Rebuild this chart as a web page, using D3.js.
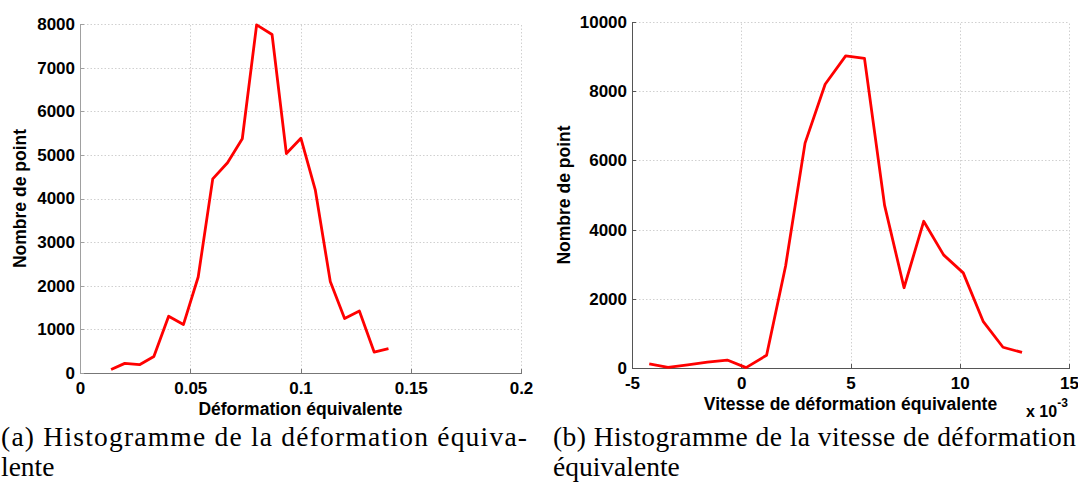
<!DOCTYPE html>
<html>
<head>
<meta charset="utf-8">
<script src="https://cdn.jsdelivr.net/npm/d3@7/dist/d3.min.js"></script>
<style>
  html, body { margin: 0; padding: 0; background: #fff; }
  svg { display: block; }
  .tick text { font-family: "Liberation Sans", Arial, sans-serif; font-weight: bold; font-size: 17px; fill: #000; }
  .lbl { font-family: "Liberation Sans", Arial, sans-serif; font-weight: bold; font-size: 17.5px; fill: #000; }
  .cap { font-family: "Liberation Serif", "Times New Roman", serif; font-size: 27.5px; fill: #000; }
</style>
</head>
<body>
<svg id="chart" width="1078" height="482"></svg>
<script>
// ---- Data: (a) Déformation équivalente ----
const defX = [0.0141, 0.0203, 0.0270, 0.0335, 0.0402, 0.0469, 0.0536, 0.0602, 0.0669, 0.0736,
              0.0801, 0.0871, 0.0936, 0.1002, 0.1067, 0.1135, 0.1200, 0.1267, 0.1334, 0.1399];
const defY = [80, 220, 190, 380, 1300, 1110, 2200, 4450, 4820, 5370,
              7980, 7760, 5030, 5380, 4200, 2100, 1250, 1420, 480, 560];
const defXTicks = [0, 0.05, 0.1, 0.15, 0.2];
const defXTickLabels = ["0", "0.05", "0.1", "0.15", "0.2"];
const defYTicks = [0, 1000, 2000, 3000, 4000, 5000, 6000, 7000, 8000];

// ---- Data: (b) Vitesse de déformation équivalente (x 10^-3) ----
const vitX = [-4.21, -3.35, -2.45, -1.55, -0.64, 0.22, 1.16, 2.03, 2.92, 3.84,
              4.78, 5.64, 6.56, 7.45, 8.35, 9.26, 10.16, 11.07, 11.98, 12.85];
const vitY = [120, 20, 90, 170, 230, 10, 370, 2950, 6500, 8200,
              9020, 8950, 4700, 2320, 4240, 3270, 2750, 1350, 600, 450];
const vitXTicks = [-5, 0, 5, 10, 15];
const vitXTickLabels = ["-5", "0", "5", "10", "15"];
const vitYTicks = [0, 2000, 4000, 6000, 8000, 10000];

const captionA = ["(a) Histogramme de la déformation équiva-", "lente"];
const captionB = ["(b) Histogramme de la vitesse de déformation", "équivalente"];

const svg = d3.select("#chart");

function panel(opts) {
  const g = svg.append("g");
  const x = d3.scaleLinear().domain(opts.xDomain).range([opts.left, opts.right]);
  const y = d3.scaleLinear().domain(opts.yDomain).range([opts.bottom, opts.top]);

  // grid
  const grid = g.append("g").attr("stroke", "#d0d0d0").attr("stroke-width", 1)
    .attr("stroke-dasharray", "1.5,2");
  grid.selectAll(".gx").data(opts.xTicks.slice(1)).join("line")
    .attr("x1", d => Math.round(x(d)) + 0.5).attr("x2", d => Math.round(x(d)) + 0.5)
    .attr("y1", opts.bottom).attr("y2", opts.top);
  grid.selectAll(".gy").data(opts.yTicks.slice(1)).join("line")
    .attr("y1", d => Math.round(y(d)) + 0.5).attr("y2", d => Math.round(y(d)) + 0.5)
    .attr("x1", opts.left).attr("x2", opts.right);

  // axes
  const xa = d3.axisBottom(x).tickValues(opts.xTicks)
    .tickFormat((d, i) => opts.xTickLabels[i]).tickSizeInner(-4).tickSizeOuter(0).tickPadding(9);
  const gx = g.append("g").attr("transform", `translate(0,${opts.bottom})`).call(xa);
  gx.select(".domain").attr("stroke", opts.xAxisColor).attr("stroke-width", 1.3);
  gx.selectAll(".tick line").attr("stroke", opts.xAxisColor);
  gx.selectAll(".tick text").attr("dy", "0.72em");

  const ya = d3.axisLeft(y).tickValues(opts.yTicks).tickFormat(d3.format("d"))
    .tickSizeInner(-4).tickSizeOuter(0).tickPadding(5);
  const gy = g.append("g").attr("transform", `translate(${opts.left},0)`).call(ya);
  gy.select(".domain").attr("stroke", opts.yAxisColor).attr("stroke-width", 1.3);
  gy.selectAll(".tick line").attr("stroke", opts.yAxisColor);
  g.selectAll(".domain, .tick line").attr("shape-rendering", "crispEdges");

  // line
  const line = d3.line().x((d, i) => x(opts.xs[i])).y(d => y(d));
  g.append("path").datum(opts.ys).attr("d", line)
    .attr("fill", "none").attr("stroke", "#ff0000").attr("stroke-width", 2.8)
    .attr("stroke-linejoin", "round");

  // labels
  g.append("text").attr("class", "lbl").attr("text-anchor", "middle")
    .attr("x", (opts.left + opts.right) / 2).attr("y", opts.bottom + 41.5)
    .text(opts.xLabel);
  g.append("text").attr("class", "lbl").attr("text-anchor", "middle")
    .attr("transform", `translate(${opts.yLabelX},${(opts.top + opts.bottom) / 2}) rotate(-90)`)
    .text(opts.yLabel);
  return { g, x, y };
}

panel({
  left: 80, right: 521, top: 24, bottom: 373,
  xDomain: [0, 0.2], yDomain: [0, 8000],
  xTicks: defXTicks, xTickLabels: defXTickLabels, yTicks: defYTicks,
  xs: defX, ys: defY,
  xAxisColor: "#777", yAxisColor: "#a0a0a0",
  xLabel: "Déformation équivalente", yLabel: "Nombre de point", yLabelX: 26
});

const pb = panel({
  left: 632, right: 1069, top: 22, bottom: 368,
  xDomain: [-5, 15], yDomain: [0, 10000],
  xTicks: vitXTicks, xTickLabels: vitXTickLabels, yTicks: vitYTicks,
  xs: vitX, ys: vitY,
  xAxisColor: "#555", yAxisColor: "#555",
  xLabel: "Vitesse de déformation équivalente", yLabel: "Nombre de point", yLabelX: 570
});

// multiplier
const mult = pb.g.append("text").attr("class", "lbl").attr("x", 1026).attr("y", 417).style("font-size", "16px");
mult.append("tspan").text("x 10");
mult.append("tspan").attr("dy", -10).style("font-size", "12px").text("-3");

// captions
svg.append("text").attr("class", "cap").attr("x", 1).attr("y", 446)
  .attr("textLength", 526).attr("lengthAdjust", "spacing").text(captionA[0]);
svg.append("text").attr("class", "cap").attr("x", 1).attr("y", 476).text(captionA[1]);
svg.append("text").attr("class", "cap").attr("x", 553).attr("y", 446)
  .attr("textLength", 523).attr("lengthAdjust", "spacing").text(captionB[0]);
svg.append("text").attr("class", "cap").attr("x", 553).attr("y", 476).text(captionB[1]);
</script>
</body>
</html>
